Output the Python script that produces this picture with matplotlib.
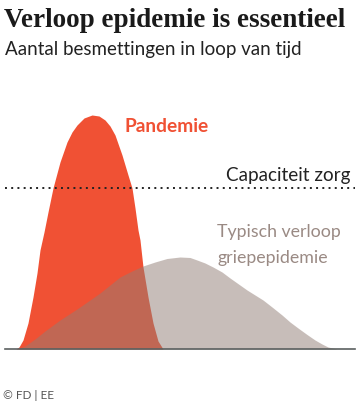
import matplotlib
matplotlib.use("Agg")
import matplotlib.pyplot as plt

# tijd (willekeurige eenheden) en aantal besmettingen (willekeurige eenheden)
pandemie_t = [11, 14, 18, 23, 28, 32, 35, 39, 43, 48, 55, 62, 67, 72, 79, 87,
              94, 100, 105, 110, 117, 123, 127, 130, 133, 135, 138, 143, 148,
              153, 158]
pandemie_n = [0, 2, 9, 26, 52, 76, 99, 117, 137, 161, 187, 207, 217, 224, 231,
              234, 233, 229, 223, 214, 194, 174, 161, 141, 119, 109, 82, 52,
              26, 8, 0]

griep_t = [13, 20, 30, 40, 55, 72, 85, 95, 105, 115, 127, 138, 150, 162, 175,
           185, 192, 200, 208, 217, 225, 242, 258, 267, 277, 285, 293, 302,
           310, 317, 323, 332]
griep_n = [0, 3, 10, 18, 29, 40, 49, 56, 64, 72, 78, 83, 87, 90.5, 92, 91.5,
           89, 86, 82, 77, 71, 59, 49, 42, 34, 27, 21, 14.5, 9, 5, 2, 0]

capaciteit = 161

fig = plt.figure(figsize=(3.6, 4.09), dpi=100)
W, H = 360, 409

def fx(x):
    return x / W

def fy(y):
    return 1 - y / H

ax = fig.add_axes([fx(5), fy(349), fx(350), 249 / H])
ax.set_xlim(0, 350)
ax.set_ylim(0, 249)
ax.axis("off")

ax.fill_between(pandemie_t, pandemie_n, 0, color="#F05134", lw=0, zorder=1)
ax.fill_between(griep_t, griep_n, 0, color="#917D75", alpha=0.5, lw=0, zorder=2)
ax.axhline(capaciteit, color="#222222", lw=1.4, linestyle=(0, (1, 2.2)), zorder=3)
ax.axhline(0, color="#5b6060", lw=1.2, zorder=4, clip_on=False)

fig.text(fx(4), fy(27), "Verloop epidemie is essentieel", family="Liberation Serif",
         weight="bold", fontsize=19.5, color="#1a1a1a", va="baseline")
fig.text(fx(5), fy(55), "Aantal besmettingen in loop van tijd", family="Lato",
         fontsize=13.5, color="#222222", va="baseline")
fig.text(fx(125), fy(132), "Pandemie", family="Lato", weight="bold",
         fontsize=13.8, color="#F05134", va="baseline")
fig.text(fx(226), fy(181), "Capaciteit zorg", family="Lato",
         fontsize=13.6, color="#222222", va="baseline")
fig.text(fx(217), fy(237), "Typisch verloop", family="Lato",
         fontsize=12.8, color="#9a8a84", va="baseline")
fig.text(fx(217), fy(263), "griepepidemie", family="Lato",
         fontsize=12.8, color="#9a8a84", va="baseline")
fig.text(fx(3), fy(399), "\u00a9 FD | EE", family="Lato",
         fontsize=8.5, color="#555555", va="baseline")

fig.savefig("out.png", dpi=100)
